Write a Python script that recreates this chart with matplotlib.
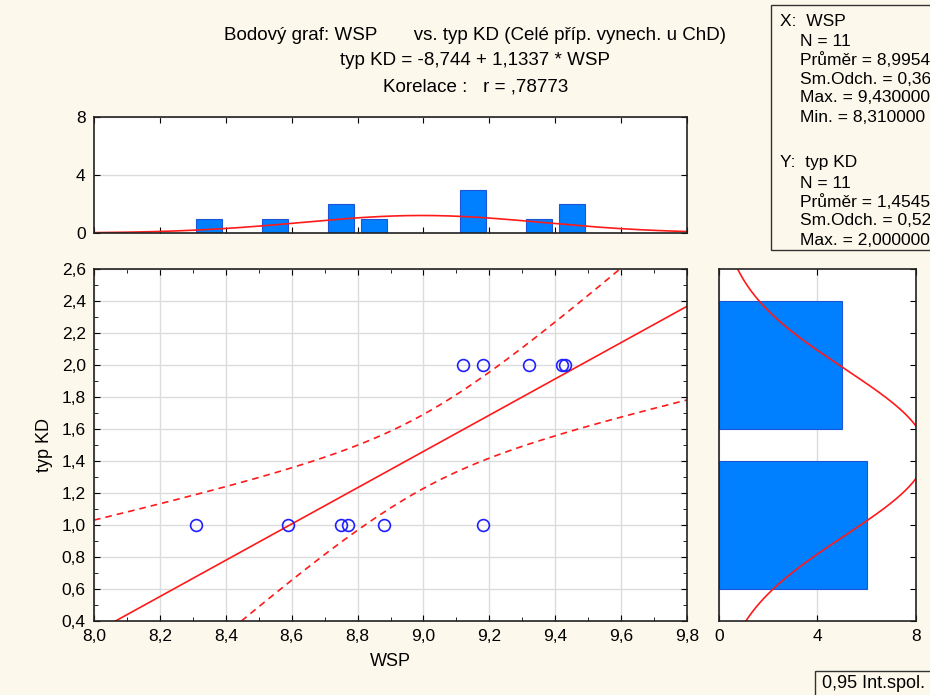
import numpy as np
import matplotlib
matplotlib.use("Agg")
import matplotlib.pyplot as plt
from matplotlib.patches import Rectangle
from matplotlib.ticker import FuncFormatter, MultipleLocator

# data
wsp = [8.31, 8.59, 8.75, 8.77, 8.88, 9.18, 9.12, 9.18, 9.32, 9.42, 9.43]
typ_kd = [1, 1, 1, 1, 1, 1, 2, 2, 2, 2, 2]

# top histogram (WSP)
wsp_bin_centers = [8.35, 8.55, 8.75, 8.85, 9.15, 9.35, 9.45]
wsp_counts = [1, 1, 2, 1, 3, 1, 2]
wsp_bin_width = 0.1

# right histogram (typ KD)
kd_bin_centers = [1.0, 2.0]
kd_counts = [6, 5]
kd_bin_width = 1.0

BG = "#fdf8ec"
BAR = "#0080ff"
BAR_EDGE = "#1c55d6"
RED = "#ff1a1a"
PT = "#2020ff"

plt.rcParams["font.family"] = ["Liberation Sans", "DejaVu Sans"]
plt.rcParams["font.size"] = 12.5

x = np.array(wsp)
y = np.array(typ_kd)
n = len(x)


def comma(v, pos):
    return f"{v:.1f}".replace(".", ",")


fig = plt.figure(figsize=(9.3, 6.95), dpi=100, facecolor=BG)

ax = fig.add_axes([0.1011, 0.1065, 0.6376, 0.5065])
ax_top = fig.add_axes([0.1011, 0.6647, 0.6376, 0.167], sharex=ax)
ax_r = fig.add_axes([0.7731, 0.1065, 0.2118, 0.5065], sharey=ax)

# regression and 95% band for the mean
slope, intercept = np.polyfit(x, y, 1)
xs = np.linspace(8.0, 9.8, 300)
fit = intercept + slope * xs
resid = y - (intercept + slope * x)
s = np.sqrt(np.sum(resid ** 2) / (n - 2))
sxx = np.sum((x - x.mean()) ** 2)
t = 2.262
half = t * s * np.sqrt(1 / n + (xs - x.mean()) ** 2 / sxx)

ax.plot(xs, fit, color=RED, lw=1.2)
ax.plot(xs, fit + half, color=RED, lw=1.2, dashes=(4, 3))
ax.plot(xs, fit - half, color=RED, lw=1.2, dashes=(4, 3))
ax.plot(x, y, "o", mfc="none", mec=PT, ms=8.5, mew=1.2, ls="none")

ax.set_xlim(8.0, 9.8)
ax.set_ylim(0.4, 2.6)
ax.xaxis.set_major_locator(MultipleLocator(0.2))
ax.xaxis.set_minor_locator(MultipleLocator(0.1))
ax.yaxis.set_major_locator(MultipleLocator(0.2))
ax.yaxis.set_minor_locator(MultipleLocator(0.1))
ax.xaxis.set_major_formatter(FuncFormatter(comma))
ax.yaxis.set_major_formatter(FuncFormatter(comma))
ax.grid(True, which="major", color="#dcdcdc", lw=1)
ax.set_axisbelow(True)
ax.tick_params(which="both", direction="in", top=True, right=True, length=4, pad=6)
ax.tick_params(which="minor", length=3)
ax.set_xlabel("WSP", labelpad=6, fontsize=13)
ax.set_ylabel("typ KD", labelpad=6, fontsize=13)

# top histogram
ax_top.bar(wsp_bin_centers, wsp_counts, width=0.08, color=BAR, edgecolor=BAR_EDGE, lw=0.8)
sd_x = x.std(ddof=1)
gx = n * wsp_bin_width / (sd_x * np.sqrt(2 * np.pi)) * np.exp(-0.5 * ((xs - x.mean()) / sd_x) ** 2)
ax_top.plot(xs, gx, color=RED, lw=1.2)
ax_top.set_ylim(0, 8)
ax_top.set_yticks([0, 4, 8])
ax_top.grid(True, axis="y", color="#dcdcdc", lw=1)
ax_top.set_axisbelow(True)
ax_top.tick_params(direction="in", top=True, right=True, length=4, labelbottom=False)
ax_top.tick_params(axis="y", pad=6)
ax_top.tick_params(which="minor", length=0)

# right histogram
ax_r.barh(kd_bin_centers, kd_counts, height=0.8, color=BAR, edgecolor=BAR_EDGE, lw=0.8)
ys = np.linspace(0.4, 2.6, 300)
sd_y = y.std(ddof=1)
gy = n * kd_bin_width / (sd_y * np.sqrt(2 * np.pi)) * np.exp(-0.5 * ((ys - y.mean()) / sd_y) ** 2)
ax_r.plot(gy, ys, color=RED, lw=1.2)
ax_r.set_xlim(0, 8)
ax_r.set_xticks([0, 4, 8])
ax_r.grid(True, axis="x", color="#dcdcdc", lw=1)
ax_r.set_axisbelow(True)
ax_r.tick_params(direction="in", top=True, right=True, left=False, labelleft=False, length=4)
ax_r.tick_params(axis="x", pad=6)
ax_r.tick_params(which="minor", length=0)

for a in (ax, ax_top, ax_r):
    a.set_facecolor("white")
    for sp in a.spines.values():
        sp.set_color("#222222")
        sp.set_linewidth(1.2)

# titles
fig.text(0.511, 0.949, "Bodový graf: WSP       vs. typ KD (Celé příp. vynech. u ChD)",
         ha="center", va="center", fontsize=13.5)
fig.text(0.511, 0.913, "typ KD = -8,744 + 1,1337 * WSP", ha="center", va="center", fontsize=13.5)
fig.text(0.511, 0.875, "Korelace :   r = ,78773", ha="center", va="center", fontsize=13.5)

# stats box (cut at the right edge, as in the original window)
fig.patches.append(Rectangle((0.829, 0.6403), 0.3, 0.3525, transform=fig.transFigure,
                             facecolor=BG, edgecolor="#333333", lw=1))
stats = [
    (780, 22, "X:  WSP"),
    (800, 41, "N = 11"),
    (800, 60, "Průměr = 8,995455"),
    (800, 79, "Sm.Odch. = 0,362848"),
    (800, 98, "Max. = 9,430000"),
    (800, 117, "Min. = 8,310000"),
    (780, 163, "Y:  typ KD"),
    (800, 183, "N = 11"),
    (800, 202, "Průměr = 1,454545"),
    (800, 221, "Sm.Odch. = 0,522233"),
    (800, 240, "Max. = 2,000000"),
]
for px, py, txt in stats:
    fig.text(px / 930, 1 - py / 695, txt, ha="left", va="center", fontsize=12.5)

# legend box
fig.patches.append(Rectangle((815 / 930, -0.05), 0.3, 0.05 + 24 / 695, transform=fig.transFigure,
                             facecolor=BG, edgecolor="#333333", lw=1))
fig.text(822 / 930, 1 - 684 / 695, "0,95 Int.spol.", ha="left", va="center", fontsize=13)

fig.savefig("out.png", dpi=100, facecolor=BG)
